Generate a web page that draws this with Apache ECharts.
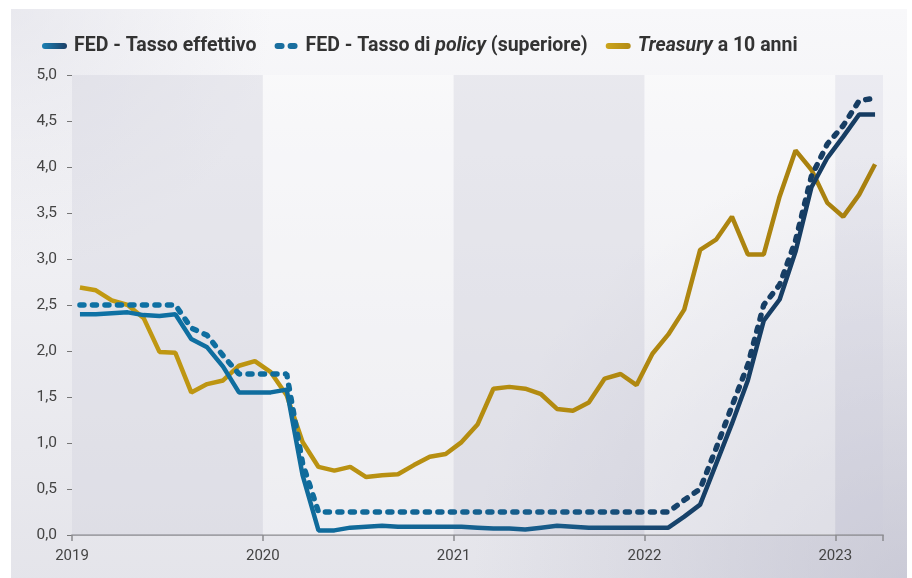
<!DOCTYPE html>
<html>
  <head>
    <meta charset="utf-8" />
    <script src="https://cdn.jsdelivr.net/npm/echarts@6/dist/echarts.min.js"></script>
    <style>
      html,
      body {
        margin: 0;
        padding: 0;
        background: #ffffff;
      }

      #main {
        width: 912px;
        height: 578px;
      }
    </style>
  </head>
  <body>
    <div id="main"></div>
    <script>
      // monthly observations, Jan 2019 - Mar 2023
      const months = [
        '2019-01', '2019-02', '2019-03', '2019-04', '2019-05', '2019-06',
        '2019-07', '2019-08', '2019-09', '2019-10', '2019-11', '2019-12',
        '2020-01', '2020-02', '2020-03', '2020-04', '2020-05', '2020-06',
        '2020-07', '2020-08', '2020-09', '2020-10', '2020-11', '2020-12',
        '2021-01', '2021-02', '2021-03', '2021-04', '2021-05', '2021-06',
        '2021-07', '2021-08', '2021-09', '2021-10', '2021-11', '2021-12',
        '2022-01', '2022-02', '2022-03', '2022-04', '2022-05', '2022-06',
        '2022-07', '2022-08', '2022-09', '2022-10', '2022-11', '2022-12',
        '2023-01', '2023-02', '2023-03'
      ];
      const yearLabels = ['2019', '2020', '2021', '2022', '2023'];

      const fedEffective = [
        2.40, 2.40, 2.41, 2.42, 2.39, 2.38, 2.40, 2.13, 2.04, 1.83, 1.55, 1.55,
        1.55, 1.58, 0.65, 0.05, 0.05, 0.08, 0.09, 0.10, 0.09, 0.09, 0.09, 0.09,
        0.09, 0.08, 0.07, 0.07, 0.06, 0.08, 0.10, 0.09, 0.08, 0.08, 0.08, 0.08,
        0.08, 0.08, 0.20, 0.33, 0.77, 1.21, 1.68, 2.33, 2.56, 3.08, 3.78, 4.10,
        4.33, 4.57, 4.57
      ];
      const fedPolicyUpper = [
        2.50, 2.50, 2.50, 2.50, 2.50, 2.50, 2.50, 2.25, 2.17, 1.95, 1.75, 1.75,
        1.75, 1.75, 0.78, 0.25, 0.25, 0.25, 0.25, 0.25, 0.25, 0.25, 0.25, 0.25,
        0.25, 0.25, 0.25, 0.25, 0.25, 0.25, 0.25, 0.25, 0.25, 0.25, 0.25, 0.25,
        0.25, 0.25, 0.38, 0.50, 0.94, 1.40, 1.85, 2.50, 2.72, 3.20, 3.90, 4.25,
        4.45, 4.72, 4.75
      ];
      const treasury10y = [
        2.69, 2.66, 2.55, 2.50, 2.36, 1.99, 1.98, 1.55, 1.64, 1.68, 1.84, 1.89,
        1.77, 1.52, 1.01, 0.74, 0.70, 0.74, 0.63, 0.65, 0.66, 0.76, 0.85, 0.88,
        1.01, 1.20, 1.59, 1.61, 1.59, 1.53, 1.37, 1.35, 1.44, 1.70, 1.75, 1.63,
        1.97, 2.18, 2.45, 3.10, 3.21, 3.46, 3.05, 3.05, 3.68, 4.18, 3.97, 3.61,
        3.46, 3.70, 4.03
      ];

      const NAME_EFF = 'FED - Tasso effettivo';
      const NAME_POL = 'FED - Tasso di policy (superiore)';
      const NAME_TSY = 'Treasury a 10 anni';

      const G = echarts.graphic;
      const blueGrad = () =>
        new G.LinearGradient(0, 0, 1, 0, [
          { offset: 0, color: '#0e72a5' },
          { offset: 0.35, color: '#106a9a' },
          { offset: 0.6, color: '#185a88' },
          { offset: 0.78, color: '#173f66' },
          { offset: 1, color: '#163c62' }
        ]);
      const goldGrad = () =>
        new G.LinearGradient(0, 0, 1, 0, [
          { offset: 0, color: '#c29a12' },
          { offset: 1, color: '#a8800f' }
        ]);

      // month i is drawn at the middle of its month on the x scale
      const toPoints = (values) => months.map((m, i) => [i + 0.5, values[i]]);

      const legendFont = { fontFamily: 'Roboto', fontWeight: 'bold', fontSize: 19.5, color: '#333333' };

      const chart = echarts.init(document.getElementById('main'));

      chart.setOption({
        backgroundColor: '#ffffff',
        animation: false,
        graphic: [
          {
            type: 'rect',
            z: -30,
            silent: true,
            shape: { x: 11, y: 9, width: 896, height: 580 },
            style: {
              fill: new G.LinearGradient(0, 0, 0, 1, [
                { offset: 0, color: '#f8f8fa' },
                { offset: 1, color: '#e4e4ea' }
              ])
            }
          },
          {
            type: 'rect',
            z: -29,
            silent: true,
            shape: { x: 11, y: 9, width: 896, height: 580 },
            style: {
              fill: new G.RadialGradient(1, 1, 0.75, [
                { offset: 0, color: 'rgba(180,180,198,0.55)' },
                { offset: 1, color: 'rgba(180,180,198,0)' }
              ])
            }
          },
          {
            type: 'rect',
            z: -28,
            silent: true,
            shape: { x: 11, y: 9, width: 896, height: 580 },
            style: {
              fill: new G.RadialGradient(0, 0, 0.45, [
                { offset: 0, color: 'rgba(215,215,225,0.45)' },
                { offset: 1, color: 'rgba(215,215,225,0)' }
              ])
            }
          }
        ],
        legend: {
          left: 37,
          top: 31,
          itemWidth: 25,
          itemHeight: 6,
          itemGap: 18,
          textStyle: Object.assign({}, legendFont, {
            padding: [0, 0, 0, 2],
            rich: {
              b: legendFont,
              i: Object.assign({}, legendFont, { fontStyle: 'italic' })
            }
          }),
          formatter: (name) => {
            if (name === NAME_POL) return '{b|FED - Tasso di }{i|policy}{b| (superiore)}';
            if (name === NAME_TSY) return '{i|Treasury}{b| a 10 anni}';
            return '{b|' + name + '}';
          },
          data: [
            {
              name: NAME_EFF,
              icon: 'path://M3,0H22A3,3 0 0 1 22,6H3A3,3 0 0 1 3,0Z',
              itemStyle: {
                color: new G.LinearGradient(0, 0, 1, 0, [
                  { offset: 0, color: '#1a80b4' },
                  { offset: 1, color: '#1b3f66' }
                ])
              }
            },
            {
              name: NAME_POL,
              icon: 'path://M3,0H7A3,3 0 0 1 7,6H3A3,3 0 0 1 3,0Z M16,0H20A3,3 0 0 1 20,6H16A3,3 0 0 1 16,0Z',
              itemStyle: { color: '#1a6f9f' }
            },
            {
              name: NAME_TSY,
              icon: 'path://M3,0H22A3,3 0 0 1 22,6H3A3,3 0 0 1 3,0Z',
              itemStyle: {
                color: new G.LinearGradient(0, 0, 1, 0, [
                  { offset: 0, color: '#cba51c' },
                  { offset: 1, color: '#b38a14' }
                ])
              }
            }
          ]
        },
        grid: {
          left: 72,
          right: 29,
          top: 75,
          bottom: 43,
          containLabel: false
        },
        xAxis: {
          type: 'value',
          min: 0,
          max: months.length,
          interval: 12,
          splitLine: { show: false },
          axisLine: { lineStyle: { color: '#8a8a8e', width: 1.5 } },
          axisTick: { length: 6, lineStyle: { color: '#8a8a8e', width: 1.5 } },
          axisLabel: {
            margin: 14,
            fontFamily: 'Roboto',
            fontSize: 15,
            color: '#444444',
            showMaxLabel: true,
            formatter: (v) => (v % 12 === 0 ? yearLabels[v / 12] : '')
          }
        },
        yAxis: {
          type: 'value',
          min: 0,
          max: 5,
          interval: 0.5,
          splitLine: { show: false },
          axisLine: { show: false },
          axisTick: { show: true, length: 5, lineStyle: { color: '#777777', width: 1 } },
          axisLabel: {
            margin: 15,
            fontFamily: 'Roboto',
            fontSize: 15.5,
            color: '#444444',
            formatter: (v) => v.toFixed(1).replace('.', ',')
          }
        },
        series: [
          {
            name: 'bands',
            type: 'line',
            data: [],
            silent: true,
            markArea: {
              silent: true,
              data: [
                [{ xAxis: 0, itemStyle: { color: 'rgba(205,205,218,0.32)' } }, { xAxis: 12 }],
                [{ xAxis: 12, itemStyle: { color: 'rgba(255,255,255,0.3)' } }, { xAxis: 24 }],
                [{ xAxis: 24, itemStyle: { color: 'rgba(205,205,218,0.32)' } }, { xAxis: 36 }],
                [{ xAxis: 36, itemStyle: { color: 'rgba(255,255,255,0.3)' } }, { xAxis: 48 }],
                [{ xAxis: 48, itemStyle: { color: 'rgba(205,205,218,0.25)' } }, { xAxis: months.length }]
              ]
            }
          },
          {
            name: NAME_TSY,
            type: 'line',
            data: toPoints(treasury10y),
            showSymbol: false,
            itemStyle: { color: '#bf9513' },
            lineStyle: { color: goldGrad(), width: 4.5 }
          },
          {
            name: NAME_POL,
            type: 'line',
            data: toPoints(fedPolicyUpper),
            showSymbol: false,
            itemStyle: { color: '#1a6f9f' },
            lineStyle: { color: blueGrad(), width: 5.5, type: [4, 8.5], cap: 'round' }
          },
          {
            name: NAME_EFF,
            type: 'line',
            data: toPoints(fedEffective),
            showSymbol: false,
            itemStyle: { color: '#1a6f9f' },
            lineStyle: { color: blueGrad(), width: 4.5 }
          }
        ]
      });
    </script>
  </body>
</html>
